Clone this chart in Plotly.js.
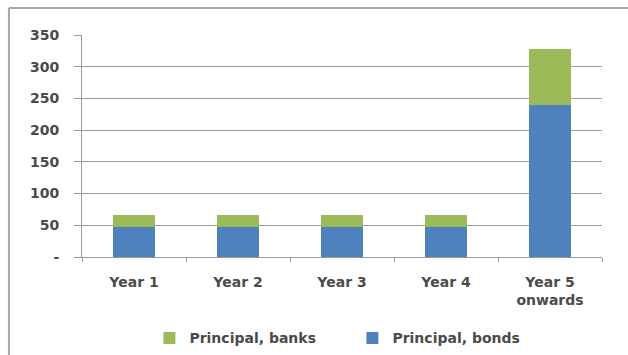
<!DOCTYPE html>
<html>
<head>
<meta charset="utf-8">
<script src="https://cdn.plot.ly/plotly-3.0.1.min.js"></script>
<style>html,body{margin:0;padding:0;background:#fff;}#chart{width:628px;height:355px;}</style>
</head>
<body>
<div id="chart"></div>
<script>
const categories = ["Year 1", "Year 2", "Year 3", "Year 4", "Year 5<br>onwards"];
const principalBonds = [48, 48, 48, 48, 240];
const principalBanks = [18, 18, 18, 18, 88];
const yTickVals = [0, 50, 100, 150, 200, 250, 300, 350];
const yTickText = ["-", "50", "100", "150", "200", "250", "300", "350"];

const font = {family: "DejaVu Sans, Verdana, sans-serif", size: 14, color: "#4a4a4a", weight: "bold"};

const traces = [
  {type: "bar", name: "Principal, bonds", x: categories, y: principalBonds,
   marker: {color: "#4f81bd"}, hoverinfo: "skip"},
  {type: "bar", name: "Principal, banks", x: categories, y: principalBanks,
   marker: {color: "#9bbb59"}, hoverinfo: "skip"}
];

const layout = {
  width: 628, height: 355,
  margin: {l: 82, r: 26, t: 35, b: 98},
  paper_bgcolor: "#ffffff", plot_bgcolor: "#ffffff",
  barmode: "stack", bargap: 0.59,
  font: font,
  showlegend: true,
  legend: {orientation: "h", traceorder: "reversed", x: 0.52, xanchor: "center",
           yref: "container", y: 0.092, yanchor: "top", font: font,
           entrywidth: 158, entrywidthmode: "pixels"},
  xaxis: {type: "category", showline: true, linecolor: "#9a9a9a", linewidth: 1,
          ticks: "outside", tickson: "boundaries", ticklen: 4, tickcolor: "#9a9a9a",
          showgrid: false, tickfont: font, ticklabelstandoff: 12, fixedrange: true},
  yaxis: {range: [0, 350], tickvals: yTickVals, ticktext: yTickText,
          showline: true, linecolor: "#9a9a9a", linewidth: 1,
          ticks: "outside", ticklen: 7, tickcolor: "#9a9a9a",
          showgrid: true, gridcolor: "#9a9a9a", gridwidth: 1,
          zeroline: false, ticklabelstandoff: 12, tickfont: font, fixedrange: true},
  shapes: [
    {type: "line", xref: "paper", yref: "paper", x0: -0.1405, x1: -0.1405, y0: -0.441, y1: 1.122,
     line: {color: "#a8a8a8", width: 2}},
    {type: "line", xref: "paper", yref: "paper", x0: -0.1405, x1: 1.06, y0: 1.122, y1: 1.122,
     line: {color: "#a8a8a8", width: 2}}
  ]
};

Plotly.newPlot("chart", traces, layout, {displayModeBar: false, staticPlot: true});
</script>
</body>
</html>
